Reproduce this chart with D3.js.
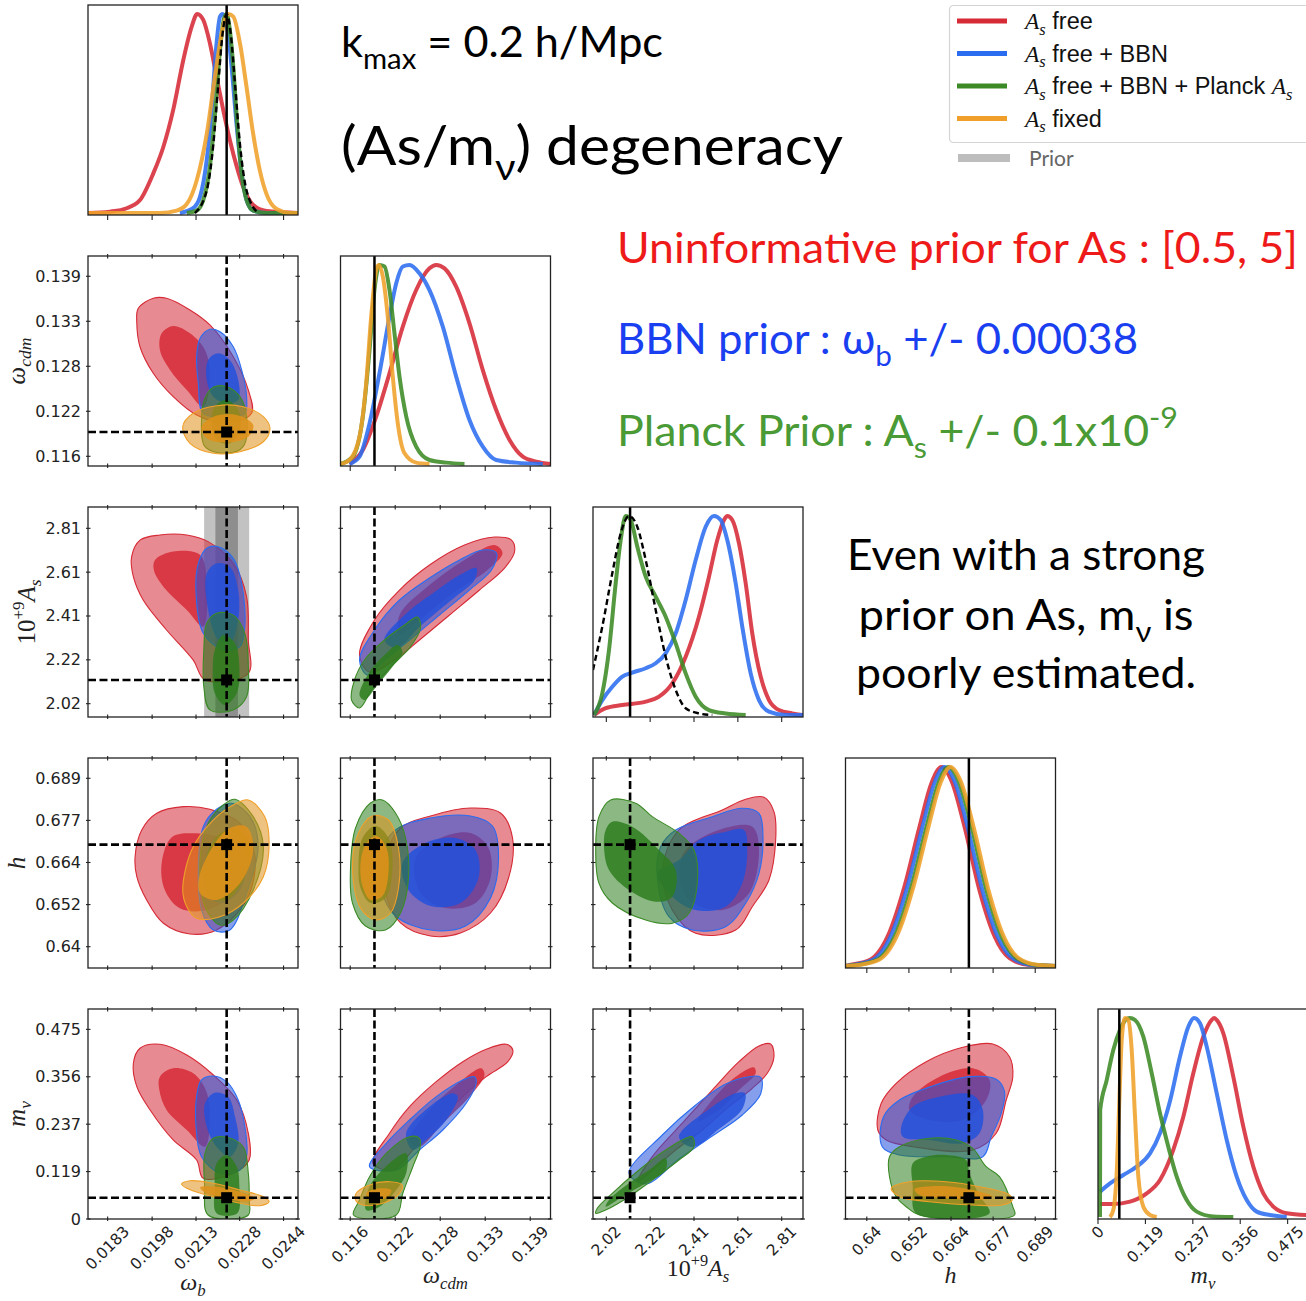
<!DOCTYPE html>
<html>
<head>
<meta charset="utf-8">
<script src="https://cdn.jsdelivr.net/npm/d3@7"></script>
<style>
html,body{margin:0;padding:0;background:#fff;}
svg{display:block;}
</style>
</head>
<body>
<svg id="chart" width="1306" height="1301"></svg>
<script>
// ======================= DATA =======================
const paramOrder = ['wb', 'wcdm', 'As', 'h', 'mnu'];

const wbDomain = [0.01763, 0.02490];
const wcdmDomain = [0.11476, 0.14159];
const AsDomain = [1.960, 2.906];
const hDomain = [0.6338, 0.6949];
const mnuDomain = [0, 0.526];

const wbTicks = [0.01831, 0.01985, 0.02137, 0.02288, 0.02440];
const wbTickLabels = ['0.0183', '0.0198', '0.0213', '0.0228', '0.0244'];
const wcdmTicks = [0.116, 0.12175, 0.1275, 0.13325, 0.139];
const wcdmTickLabels = ['0.116', '0.122', '0.128', '0.133', '0.139'];
const AsTicks = [2.02, 2.2175, 2.415, 2.6125, 2.81];
const AsTickLabels = ['2.02', '2.22', '2.41', '2.61', '2.81'];
const hTicks = [0.64, 0.65225, 0.6645, 0.67675, 0.689];
const hTickLabels = ['0.64', '0.652', '0.664', '0.677', '0.689'];
const mnuTicks = [0, 0.11875, 0.2375, 0.35625, 0.475];
const mnuTickLabels = ['0', '0.119', '0.237', '0.356', '0.475'];

const truthValues = { wb: 0.02243, wcdm: 0.1191, As: 2.127, h: 0.6697, mnu: 0.0534 };
const bbnPrior = { mean: 0.02243, sigma: 0.00039 };

const seriesNames = ['red', 'blue', 'green', 'orange'];

// ---- 1D marginal posteriors [value, normalised height] ----
const pdf_wb_red = [[0.01764,0],[0.01839,0.007],[0.01897,0.024],[0.01943,0.065],[0.01989,0.199],[0.02024,0.333],[0.02058,0.518],[0.02093,0.769],[0.02122,0.936],[0.02141,1.0],[0.02162,0.970],[0.02185,0.853],[0.02208,0.685],[0.02231,0.518],[0.02254,0.367],[0.02278,0.233],[0.02300,0.132],[0.02335,0.040],[0.02381,0.010],[0.02490,0]];
const pdf_wb_blue = [[0.02081,0],[0.02127,0.024],[0.02151,0.082],[0.02174,0.266],[0.02191,0.518],[0.02206,0.819],[0.02220,0.987],[0.02229,1.0],[0.02243,0.953],[0.02260,0.735],[0.02278,0.434],[0.02295,0.199],[0.02312,0.065],[0.02335,0.012],[0.02381,0],[0.02490,0]];
const pdf_wb_green = [[0.02105,0],[0.02139,0.012],[0.02162,0.065],[0.02185,0.233],[0.02202,0.484],[0.02220,0.819],[0.02234,0.978],[0.02243,1.0],[0.02254,0.920],[0.02266,0.735],[0.02280,0.434],[0.02295,0.199],[0.02312,0.065],[0.02335,0.012],[0.02381,0],[0.02490,0]];
const pdf_wb_orange = [[0.01763,0],[0.02012,0],[0.02070,0.012],[0.02105,0.045],[0.02139,0.162],[0.02174,0.396],[0.02202,0.681],[0.02226,0.903],[0.02248,1.0],[0.02266,0.987],[0.02289,0.853],[0.02312,0.631],[0.02335,0.396],[0.02358,0.213],[0.02381,0.095],[0.02416,0.020],[0.02462,0],[0.02490,0]];
const prior_wb = [[0.02133,0],[0.02174,0.113],[0.02197,0.347],[0.02214,0.648],[0.02229,0.903],[0.02243,1.0],[0.02257,0.903],[0.02272,0.648],[0.02289,0.347],[0.02312,0.113],[0.02352,0]];

const pdf_wcdm_red = [[0.11591,0],[0.11761,0.070],[0.11932,0.238],[0.12102,0.456],[0.12272,0.690],[0.12443,0.874],[0.12613,0.983],[0.12699,1.0],[0.12805,0.983],[0.12954,0.891],[0.13124,0.707],[0.13294,0.472],[0.13465,0.271],[0.13636,0.121],[0.13805,0.037],[0.13977,0.012],[0.14159,0]];
const pdf_wcdm_blue = [[0.11591,0],[0.11719,0.037],[0.11847,0.204],[0.11974,0.456],[0.12102,0.740],[0.12188,0.908],[0.12272,0.992],[0.12358,1.0],[0.12485,0.958],[0.12613,0.874],[0.12783,0.690],[0.12954,0.439],[0.13124,0.221],[0.13294,0.087],[0.13465,0.020],[0.13721,0.007],[0.14061,0]];
const pdf_wcdm_green = [[0.11476,0],[0.11633,0.037],[0.11761,0.238],[0.11847,0.573],[0.11910,0.874],[0.11974,1.0],[0.12038,0.992],[0.12102,0.874],[0.12166,0.656],[0.12230,0.439],[0.12316,0.238],[0.12443,0.087],[0.12613,0.020],[0.12827,0.007],[0.13060,0]];
const pdf_wcdm_orange = [[0.11476,0],[0.11591,0.020],[0.11719,0.137],[0.11804,0.405],[0.11868,0.740],[0.11932,0.975],[0.11965,1.0],[0.12017,0.941],[0.12080,0.740],[0.12144,0.439],[0.12208,0.204],[0.12294,0.054],[0.12443,0.007],[0.12613,0]];

const pdf_As_red = [[1.9645,0],[2.0172,0.034],[2.0920,0.050],[2.1974,0.067],[2.2573,0.092],[2.3172,0.159],[2.3775,0.293],[2.4374,0.494],[2.4825,0.695],[2.5199,0.879],[2.5500,0.980],[2.5649,1.0],[2.5874,0.980],[2.6176,0.863],[2.6478,0.662],[2.6775,0.410],[2.7153,0.193],[2.7527,0.075],[2.7977,0.025],[2.8577,0.008],[2.9027,0]];
const pdf_As_blue = [[1.9645,0],[2.0019,0.075],[2.0469,0.142],[2.0920,0.193],[2.1370,0.213],[2.1974,0.235],[2.2424,0.260],[2.2874,0.310],[2.3325,0.410],[2.3775,0.578],[2.4226,0.779],[2.4676,0.946],[2.5050,1.0],[2.5352,0.980],[2.5649,0.879],[2.6027,0.662],[2.6324,0.444],[2.6703,0.209],[2.7077,0.075],[2.7527,0.017],[2.8279,0],[2.906,0]];
const pdf_As_green = [[1.9645,0],[2.0019,0.109],[2.0321,0.327],[2.0622,0.662],[2.0848,0.879],[2.1073,1.0],[2.1298,0.980],[2.1595,0.846],[2.1974,0.695],[2.2424,0.595],[2.2874,0.494],[2.3325,0.360],[2.3775,0.209],[2.4226,0.092],[2.4825,0.025],[2.5577,0.008],[2.6478,0]];
const prior_As = [[1.960,0.226],[2.0019,0.444],[2.0469,0.712],[2.0848,0.913],[2.1221,1.0],[2.1595,0.946],[2.1974,0.779],[2.2424,0.528],[2.2874,0.293],[2.3325,0.126],[2.3775,0.034],[2.4374,0.008],[2.4973,0]];

const pdf_h_red = [[0.6338,0],[0.63496,0.005],[0.64078,0.03],[0.6466,0.17],[0.65097,0.40],[0.65533,0.70],[0.65883,0.92],[0.66174,1.0],[0.66465,0.93],[0.66843,0.70],[0.67279,0.38],[0.67716,0.15],[0.68152,0.04],[0.68734,0.005],[0.6949,0]];
const pdf_h_blue = [[0.6338,0],[0.63583,0.005],[0.64165,0.03],[0.64747,0.17],[0.65184,0.40],[0.6562,0.70],[0.6597,0.92],[0.66261,1.0],[0.66552,0.93],[0.6693,0.70],[0.67366,0.38],[0.67803,0.15],[0.68239,0.04],[0.68821,0.005],[0.6949,0]];
const pdf_h_green = [[0.6338,0],[0.637,0.005],[0.64282,0.03],[0.64864,0.17],[0.65301,0.40],[0.65737,0.70],[0.66087,0.92],[0.66378,1.0],[0.66669,0.93],[0.67047,0.70],[0.67483,0.38],[0.6792,0.15],[0.68356,0.04],[0.68938,0.005],[0.6949,0]];
const pdf_h_orange = [[0.6338,0],[0.63758,0.005],[0.6434,0.03],[0.64922,0.17],[0.65359,0.40],[0.65795,0.70],[0.66145,0.92],[0.66436,1.0],[0.66727,0.93],[0.67105,0.70],[0.67541,0.38],[0.67978,0.15],[0.68414,0.04],[0.68996,0.005],[0.6949,0]];

const pdf_mnu_red = [[0.005,0.065],[0.0383,0.065],[0.0802,0.077],[0.1220,0.119],[0.1553,0.186],[0.1886,0.337],[0.2137,0.504],[0.2387,0.722],[0.2638,0.906],[0.2848,0.99],[0.2910,1.0],[0.2973,0.99],[0.3139,0.923],[0.3389,0.705],[0.3640,0.454],[0.3890,0.253],[0.4141,0.119],[0.4391,0.052],[0.4727,0.019],[0.5228,0.010]];
const pdf_mnu_blue = [[0.005,0.127],[0.0301,0.169],[0.0634,0.211],[0.0969,0.253],[0.1303,0.320],[0.1553,0.421],[0.1804,0.583],[0.2054,0.806],[0.2262,0.956],[0.2405,1.0],[0.2555,0.973],[0.2723,0.856],[0.2973,0.622],[0.3224,0.387],[0.3474,0.203],[0.3725,0.085],[0.3975,0.027],[0.4309,0.010],[0.4727,0]];
const pdf_mnu_green = [[0.005,0],[0.0055,0.538],[0.0218,0.688],[0.0383,0.839],[0.0551,0.940],[0.0719,0.995],[0.0802,1.0],[0.0927,0.990],[0.1135,0.906],[0.1345,0.722],[0.1553,0.521],[0.1761,0.353],[0.1971,0.203],[0.2222,0.085],[0.2472,0.027],[0.2888,0.003],[0.3389,0]];
const pdf_mnu_orange = [[0.0301,0],[0.0383,0.035],[0.0468,0.220],[0.0534,0.583],[0.0594,0.889],[0.0676,1.0],[0.0759,0.990],[0.0844,0.839],[0.0927,0.504],[0.1010,0.203],[0.1135,0.052],[0.1303,0.010],[0.1470,0]];

// ---- 2D credible contours (o = 95%, i = 68%) [x value, y value] ----
const ct_wb_wcdm = {
  red: { o: [[0.01937,0.13491],[0.01989,0.13619],[0.02035,0.13619],[0.02116,0.13469],[0.02185,0.13278],[0.02266,0.12873],[0.02318,0.12447],[0.02329,0.12149],[0.02243,0.12022],[0.02139,0.12128],[0.02058,0.12362],[0.01989,0.12661],[0.01943,0.13000],[0.01932,0.13299]],
         i: [[0.02018,0.13172],[0.02058,0.13265],[0.02116,0.13172],[0.02168,0.12958],[0.02185,0.12617],[0.02162,0.12234],[0.02105,0.12447],[0.02047,0.12703],[0.02012,0.12958]] },
  blue: { o: [[0.02151,0.13108],[0.02185,0.13223],[0.02220,0.13192],[0.02266,0.13000],[0.02295,0.12703],[0.02312,0.12362],[0.02306,0.12149],[0.02243,0.12106],[0.02162,0.12149],[0.02145,0.12533],[0.02139,0.12873]],
          i: [[0.02179,0.12830],[0.02214,0.12916],[0.02254,0.12830],[0.02283,0.12575],[0.02283,0.12319],[0.02243,0.12277],[0.02197,0.12362],[0.02174,0.12575]] },
  green: { o: [[0.02168,0.12341],[0.02197,0.12482],[0.02243,0.12489],[0.02289,0.12362],[0.02312,0.12106],[0.02300,0.11723],[0.02243,0.11638],[0.02168,0.11723],[0.02156,0.12064]],
           i: [[0.02202,0.12234],[0.02243,0.12319],[0.02283,0.12192],[0.02289,0.11936],[0.02254,0.11766],[0.02208,0.11808],[0.02191,0.12022]] },
  orange: { o: [[0.02091,0.11978],[0.02127,0.12149],[0.02208,0.12246],[0.02300,0.12234],[0.02370,0.12106],[0.02393,0.11958],[0.02370,0.11786],[0.02289,0.11659],[0.02197,0.11638],[0.02116,0.11766]],
            i: [[0.02156,0.11978],[0.02197,0.12106],[0.02278,0.12128],[0.02335,0.12000],[0.02318,0.11850],[0.02243,0.11774],[0.02174,0.11830]] }
};
const ct_wb_As = {
  red: { o: [[0.01914,2.682],[0.01943,2.757],[0.02012,2.780],[0.02105,2.780],[0.02179,2.750],[0.02266,2.652],[0.02312,2.502],[0.02318,2.307],[0.02318,2.157],[0.02168,2.127],[0.02127,2.217],[0.02035,2.352],[0.01954,2.487],[0.01920,2.592]],
         i: [[0.01995,2.667],[0.02058,2.705],[0.02151,2.690],[0.02174,2.562],[0.02162,2.367],[0.02105,2.442],[0.02024,2.547],[0.01991,2.622]] },
  blue: { o: [[0.02145,2.652],[0.02174,2.720],[0.02214,2.727],[0.02266,2.675],[0.02295,2.562],[0.02306,2.367],[0.02289,2.277],[0.02231,2.262],[0.02162,2.337],[0.02137,2.517]],
          i: [[0.02174,2.607],[0.02208,2.652],[0.02254,2.637],[0.02283,2.532],[0.02283,2.397],[0.02254,2.292],[0.02214,2.307],[0.02179,2.442]] },
  green: { o: [[0.02174,2.382],[0.02208,2.427],[0.02266,2.419],[0.02306,2.337],[0.02318,2.187],[0.02312,2.051],[0.02266,1.992],[0.02185,1.992],[0.02164,2.096],[0.02164,2.262]],
           i: [[0.02202,2.262],[0.02231,2.329],[0.02272,2.292],[0.02287,2.187],[0.02278,2.067],[0.02237,2.014],[0.02202,2.067],[0.02195,2.187]] }
};
const ct_wcdm_As = {
  red: { o: [[0.11910,2.3969],[0.12230,2.5320],[0.12613,2.6446],[0.13060,2.7347],[0.13444,2.7707],[0.13661,2.7572],[0.13699,2.7032],[0.13572,2.6311],[0.13252,2.5320],[0.12869,2.4194],[0.12485,2.3068],[0.12166,2.2167],[0.11847,2.1627],[0.11719,2.2392]],
         i: [[0.12230,2.4194],[0.12613,2.5545],[0.13060,2.6671],[0.13444,2.7347],[0.13546,2.6987],[0.13354,2.6221],[0.12933,2.5230],[0.12485,2.3969],[0.12230,2.3293]] },
  blue: { o: [[0.11719,2.2167],[0.11910,2.3518],[0.12230,2.4870],[0.12613,2.5861],[0.12997,2.6671],[0.13290,2.7122],[0.13469,2.6987],[0.13405,2.6221],[0.13124,2.5320],[0.12741,2.4194],[0.12358,2.3068],[0.12038,2.2167],[0.11821,2.1492]],
          i: [[0.12038,2.3068],[0.12294,2.4194],[0.12677,2.5230],[0.12997,2.5996],[0.13214,2.6311],[0.13188,2.5770],[0.12894,2.4870],[0.12511,2.3744],[0.12192,2.2708]] },
  green: { o: [[0.11617,2.0366],[0.11655,2.1266],[0.11783,2.2167],[0.12038,2.3068],[0.12294,2.3744],[0.12460,2.4104],[0.12498,2.3609],[0.12358,2.2708],[0.12102,2.1807],[0.11872,2.0816],[0.11719,2.0005]],
           i: [[0.11719,2.0591],[0.11847,2.1627],[0.12038,2.2392],[0.12204,2.2843],[0.12268,2.2528],[0.12128,2.1807],[0.11949,2.1041],[0.11783,2.0366]] }
};
const ct_wb_h = {
  red: { o: [[0.01926,0.66619],[0.01949,0.67396],[0.02001,0.67882],[0.02093,0.68074],[0.02185,0.67998],[0.02289,0.67591],[0.02341,0.66619],[0.02312,0.65359],[0.02208,0.64486],[0.02116,0.64369],[0.02024,0.64681],[0.01966,0.65359],[0.01932,0.66037]],
         i: [[0.02018,0.66427],[0.02053,0.67183],[0.02127,0.67300],[0.02243,0.67105],[0.02312,0.66523],[0.02266,0.65554],[0.02174,0.65068],[0.02081,0.65117],[0.02029,0.65650]] },
  blue: { o: [[0.02162,0.67492],[0.02208,0.67998],[0.02260,0.68173],[0.02324,0.67783],[0.02352,0.66910],[0.02312,0.65554],[0.02254,0.64486],[0.02197,0.64486],[0.02156,0.65068],[0.02145,0.66328]],
          i: [[0.02168,0.66523],[0.02208,0.67201],[0.02278,0.67300],[0.02312,0.66619],[0.02289,0.65650],[0.02220,0.65263],[0.02174,0.65650]] },
  green: { o: [[0.02151,0.66523],[0.02179,0.67591],[0.02231,0.68123],[0.02272,0.68289],[0.02335,0.67783],[0.02370,0.66910],[0.02335,0.65650],[0.02266,0.64777],[0.02220,0.64631],[0.02168,0.65164]],
           i: [[0.02162,0.66136],[0.02208,0.67201],[0.02278,0.67445],[0.02324,0.66910],[0.02306,0.66037],[0.02243,0.65359],[0.02185,0.65455]] },
  orange: { o: [[0.02091,0.65650],[0.02122,0.66814],[0.02197,0.67687],[0.02266,0.68123],[0.02318,0.68269],[0.02375,0.67783],[0.02390,0.67009],[0.02370,0.66037],[0.02300,0.65263],[0.02220,0.64873],[0.02139,0.64826],[0.02105,0.65164]],
            i: [[0.02151,0.66136],[0.02243,0.67396],[0.02312,0.67492],[0.02335,0.66814],[0.02289,0.65845],[0.02208,0.65359],[0.02151,0.65554]] }
};
const ct_wcdm_h = {
  red: { o: [[0.12051,0.66581],[0.12243,0.67454],[0.12626,0.67803],[0.13137,0.68036],[0.13520,0.67891],[0.13674,0.67163],[0.13623,0.65999],[0.13393,0.64980],[0.13009,0.64399],[0.12626,0.64311],[0.12243,0.64690],[0.12051,0.65563]],
         i: [[0.12434,0.66581],[0.12754,0.67163],[0.13137,0.67309],[0.13367,0.66872],[0.13393,0.65999],[0.13201,0.65272],[0.12818,0.65126],[0.12498,0.65563]] },
  blue: { o: [[0.11962,0.66581],[0.12179,0.67396],[0.12626,0.67745],[0.13137,0.67803],[0.13418,0.67512],[0.13495,0.66581],[0.13393,0.65417],[0.13073,0.64602],[0.12626,0.64486],[0.12179,0.64893],[0.11987,0.65708]],
          i: [[0.12268,0.66436],[0.12562,0.67018],[0.12945,0.67163],[0.13201,0.66814],[0.13240,0.65999],[0.13009,0.65272],[0.12626,0.65184],[0.12345,0.65650]] },
  green: { o: [[0.11604,0.66290],[0.11668,0.67454],[0.11859,0.68182],[0.12013,0.68269],[0.12179,0.67891],[0.12307,0.67163],[0.12345,0.65999],[0.12243,0.64980],[0.12051,0.64486],[0.11795,0.64602],[0.11629,0.65272]],
           i: [[0.11706,0.66290],[0.11757,0.67163],[0.11923,0.67512],[0.12089,0.67163],[0.12140,0.66290],[0.12051,0.65417],[0.11859,0.65272],[0.11732,0.65708]] },
  orange: { o: [[0.11629,0.66290],[0.11706,0.67309],[0.11885,0.67803],[0.12089,0.67687],[0.12217,0.66872],[0.12217,0.65708],[0.12115,0.64980],[0.11923,0.64777],[0.11732,0.65126]],
            i: [[0.11732,0.66436],[0.11808,0.67018],[0.11936,0.67221],[0.12064,0.66872],[0.12089,0.66145],[0.12013,0.65475],[0.11859,0.65359],[0.11757,0.65766]] }
};
const ct_As_h = {
  red: { o: [[2.3473,0.67396],[2.5424,0.67978],[2.6478,0.68289],[2.7302,0.68347],[2.7752,0.67928],[2.7829,0.67105],[2.7527,0.65941],[2.6775,0.65164],[2.6027,0.64486],[2.4226,0.64390],[2.3172,0.65068],[2.2721,0.66232]],
         i: [[2.3775,0.66814],[2.5275,0.67396],[2.6775,0.67492],[2.7077,0.66814],[2.6626,0.65554],[2.5424,0.65068],[2.3924,0.65359],[2.3473,0.66136]] },
  blue: { o: [[2.3325,0.67396],[2.4973,0.67783],[2.6324,0.68027],[2.7077,0.67882],[2.7257,0.67201],[2.7077,0.66136],[2.6478,0.65263],[2.5577,0.64582],[2.4072,0.64486],[2.3023,0.64873],[2.2496,0.66037],[2.2649,0.66910]],
          i: [[2.3473,0.66523],[2.4374,0.67105],[2.5577,0.67346],[2.6401,0.67396],[2.6550,0.66814],[2.6324,0.65845],[2.5577,0.65164],[2.4226,0.65068],[2.3172,0.65455],[2.2496,0.66136]] },
  green: { o: [[1.9870,0.67783],[2.0397,0.68269],[2.1523,0.68173],[2.2271,0.67783],[2.3473,0.67300],[2.4149,0.66814],[2.4298,0.65845],[2.3924,0.64972],[2.3172,0.64681],[2.1974,0.64777],[2.0469,0.65272],[1.9870,0.65845],[1.9722,0.66814]],
           i: [[2.0172,0.67396],[2.0469,0.67637],[2.1370,0.67492],[2.2573,0.66814],[2.3325,0.66232],[2.3172,0.65455],[2.2424,0.65309],[2.1221,0.65650],[2.0321,0.66232],[2.0095,0.66910]] }
};
const ct_wb_mnu = {
  red: { o: [[0.01920,0.3900],[0.01943,0.4276],[0.02012,0.4376],[0.02105,0.4108],[0.02197,0.3607],[0.02278,0.2981],[0.02318,0.2147],[0.02321,0.1478],[0.02266,0.1145],[0.02162,0.1020],[0.02139,0.1478],[0.02058,0.1979],[0.01978,0.2730],[0.01932,0.3314]],
         i: [[0.02012,0.3565],[0.02058,0.3775],[0.02127,0.3650],[0.02168,0.3274],[0.02185,0.2730],[0.02168,0.1811],[0.02105,0.2229],[0.02035,0.2730],[0.02010,0.3231]] },
  blue: { o: [[0.02139,0.3064],[0.02156,0.3482],[0.02197,0.3582],[0.02243,0.3439],[0.02283,0.2981],[0.02306,0.2312],[0.02312,0.1561],[0.02289,0.1227],[0.02220,0.1145],[0.02156,0.1561],[0.02137,0.2312]],
          i: [[0.02168,0.2898],[0.02202,0.3164],[0.02248,0.3064],[0.02272,0.2563],[0.02283,0.1896],[0.02254,0.1561],[0.02208,0.1811],[0.02174,0.2312]] },
  green: { o: [[0.02168,0.1646],[0.02197,0.2022],[0.02243,0.2047],[0.02300,0.1811],[0.02318,0.1145],[0.02321,0.0476],[0.02318,0.0100],[0.02179,0.0100],[0.02167,0.0809]],
           i: [[0.02208,0.1395],[0.02243,0.1603],[0.02278,0.1310],[0.02287,0.0809],[0.02280,0.0143],[0.02208,0.0143],[0.02202,0.0809]] },
  orange: { o: [[0.02087,0.0877],[0.02116,0.0959],[0.02197,0.0894],[0.02289,0.0726],[0.02370,0.0559],[0.02390,0.0433],[0.02358,0.0333],[0.02266,0.0433],[0.02174,0.0601],[0.02105,0.0769]],
            i: [[0.02151,0.0794],[0.02208,0.0809],[0.02289,0.0684],[0.02341,0.0519],[0.02312,0.0433],[0.02243,0.0519],[0.02168,0.0659]] }
};
const ct_wcdm_mnu = {
  red: { o: [[0.11889,0.1395],[0.12102,0.2147],[0.12358,0.2813],[0.12699,0.3439],[0.13039,0.3940],[0.13338,0.4251],[0.13593,0.4376],[0.13678,0.4233],[0.13614,0.3940],[0.13338,0.3565],[0.13039,0.3064],[0.12699,0.2397],[0.12400,0.1728],[0.12144,0.1227]],
         i: [[0.12358,0.1979],[0.12613,0.2730],[0.12954,0.3357],[0.13274,0.3775],[0.13316,0.3607],[0.13124,0.3064],[0.12783,0.2397],[0.12485,0.1811]] },
  blue: { o: [[0.11847,0.1310],[0.12060,0.1896],[0.12358,0.2480],[0.12699,0.3064],[0.13039,0.3482],[0.13188,0.3565],[0.13210,0.3399],[0.13082,0.2898],[0.12783,0.2229],[0.12485,0.1728],[0.12188,0.1227]],
          i: [[0.12315,0.2147],[0.12613,0.2813],[0.12911,0.3149],[0.12975,0.3064],[0.12827,0.2480],[0.12571,0.1979],[0.12400,0.1728]] },
  green: { o: [[0.12485,0.2022],[0.12358,0.2062],[0.12060,0.1646],[0.11847,0.1060],[0.11719,0.0476],[0.11642,0.0100],[0.12188,0.0100],[0.12272,0.0644],[0.12400,0.1310],[0.12494,0.1811]],
           i: [[0.12102,0.1395],[0.12315,0.1646],[0.12315,0.1145],[0.12188,0.0726],[0.11974,0.0308],[0.11804,0.0225],[0.11847,0.0809]] },
  orange: { o: [[0.11677,0.0644],[0.11847,0.0852],[0.12102,0.0934],[0.12264,0.0852],[0.12230,0.0644],[0.12016,0.0393],[0.11761,0.0351],[0.11668,0.0476]],
            i: [[0.11804,0.0644],[0.11974,0.0769],[0.12124,0.0726],[0.12080,0.0559],[0.11889,0.0476]] }
};
const ct_As_mnu = {
  red: { o: [[2.2271,0.1561],[2.3473,0.2312],[2.4973,0.3231],[2.6176,0.3940],[2.7077,0.4334],[2.7604,0.4384],[2.7752,0.4066],[2.7450,0.3650],[2.6775,0.3274],[2.5725,0.2813],[2.4523,0.2229],[2.3325,0.1728],[2.1627,0.0952]],
         i: [[2.4973,0.2981],[2.6027,0.3565],[2.6851,0.3800],[2.6928,0.3650],[2.6176,0.3231],[2.5275,0.2730],[2.4329,0.2455]] },
  blue: { o: [[2.1221,0.1145],[2.2721,0.2104],[2.4226,0.2856],[2.5577,0.3382],[2.6626,0.3565],[2.7153,0.3550],[2.7153,0.3131],[2.6324,0.2605],[2.4973,0.2079],[2.3473,0.1503],[2.1974,0.0877]],
          i: [[2.3473,0.2062],[2.4973,0.2813],[2.6027,0.3149],[2.6446,0.3149],[2.6324,0.2756],[2.5275,0.2255],[2.4072,0.1804]] },
  green: { o: [[2.4072,0.2062],[2.4149,0.1811],[2.3473,0.1478],[2.2271,0.0977],[2.1221,0.0559],[2.0172,0.0225],[1.9722,0.0143],[1.9794,0.0268],[2.0469,0.0644],[2.1672,0.1227],[2.2874,0.1728],[2.3775,0.2022]],
           i: [[2.2122,0.1227],[2.2874,0.1521],[2.2874,0.1227],[2.1974,0.0894],[2.0920,0.0559],[2.0172,0.0308],[2.0321,0.0476],[2.1221,0.0894]] }
};
const ct_h_mnu = {
  red: { o: [[0.64320,0.2229],[0.64419,0.2898],[0.64855,0.3399],[0.65728,0.3940],[0.66793,0.4301],[0.67666,0.4384],[0.68152,0.4066],[0.68248,0.3565],[0.68056,0.2981],[0.67765,0.2147],[0.67084,0.1728],[0.65338,0.1811],[0.64564,0.1979]],
         i: [[0.65338,0.3064],[0.66115,0.3565],[0.67084,0.3775],[0.67570,0.3482],[0.67474,0.2981],[0.66793,0.2480],[0.65824,0.2480],[0.65242,0.2730]] },
  blue: { o: [[0.64448,0.1811],[0.64486,0.2563],[0.64951,0.2981],[0.65920,0.3332],[0.66988,0.3565],[0.67765,0.3500],[0.68007,0.3189],[0.67911,0.2648],[0.67620,0.2062],[0.67375,0.1561],[0.66310,0.1561],[0.64951,0.1603]],
          i: [[0.65001,0.2312],[0.65338,0.2813],[0.66115,0.3064],[0.67084,0.3106],[0.67375,0.2730],[0.67279,0.2147],[0.66793,0.1896],[0.65824,0.1979],[0.65047,0.2062]] },
  green: { o: [[0.64660,0.1561],[0.64951,0.1811],[0.65824,0.2022],[0.66601,0.1979],[0.67084,0.1771],[0.67474,0.1310],[0.67861,0.1060],[0.68248,0.0308],[0.68298,0.0100],[0.65533,0.0100],[0.65146,0.0308],[0.64855,0.0559],[0.64660,0.1060]],
           i: [[0.65338,0.1395],[0.65728,0.1561],[0.66310,0.1603],[0.66892,0.1478],[0.66988,0.1145],[0.67250,0.0626],[0.67570,0.0143],[0.65437,0.0143],[0.65338,0.0809]] },
  orange: { o: [[0.64710,0.0769],[0.65242,0.0934],[0.66310,0.0934],[0.67279,0.0809],[0.68152,0.0601],[0.68231,0.0476],[0.67957,0.0351],[0.67084,0.0351],[0.65824,0.0433],[0.64951,0.0559]],
            i: [[0.65388,0.0744],[0.66115,0.0827],[0.67084,0.0726],[0.67666,0.0559],[0.67279,0.0476],[0.66310,0.0519],[0.65533,0.0601]] }
};

// ---- text content ----
const legendEntries = [
  [['A','m'],['s','msub'],[' free','n']],
  [['A','m'],['s','msub'],[' free + BBN','n']],
  [['A','m'],['s','msub'],[' free + BBN + Planck ','n'],['A','m'],['s','msub']],
  [['A','m'],['s','msub'],[' fixed','n']]
];
const legendPriorLabel = 'Prior';
const axisLabels = {
  wb:   [['ω','m'],['b','msub']],
  wcdm: [['ω','m'],['cdm','msub']],
  As:   [['10','n'],['+9','sup'],['A','m'],['s','msub']],
  h:    [['h','m']],
  mnu:  [['m','m'],['ν','msub']]
};
const titleKmax = [['k','n'],['max','sub'],[' = 0.2 h/Mpc','n']];
const titleDegeneracy = [['(As/m','n'],['ν','sub'],[') degeneracy','n']];
const noteUninformative = [['Uninformative prior for As : [0.5, 5]','n']];
const noteBBN = [['BBN prior : ω','n'],['b','sub'],[' +/- 0.00038','n']];
const notePlanck = [['Planck Prior :  A','n'],['s','sub'],[' +/- 0.1x10','n'],['-9','sup']];
const noteConclusion = [
  [['Even with a strong','n']],
  [['prior on As, m','n'],['ν','sub'],[' is','n']],
  [['poorly estimated.','n']]
];

// ======================= STYLE / LAYOUT =======================
const colors = {
  red:    { line: '#d62a36', fill: '#d62a36' },
  blue:   { line: '#2b6df0', fill: '#2351dc' },
  green:  { line: '#3c8a26', fill: '#2e7d1e' },
  orange: { line: '#f0a02a', fill: '#e0921a' }
};
const S = 210;
const colX = j => 88 + 252.5 * j;
const rowY = i => 5 + 251 * i;
const SANS = "'DejaVu Sans', sans-serif";
const LEGSANS = "'Liberation Sans', Arial, sans-serif";
const SERIF = "'Liberation Serif', 'DejaVu Serif', serif";
const BIG = "Lato, 'Open Sans', sans-serif";

const params = {
  wb:   { domain: wbDomain,   ticks: wbTicks,   labels: wbTickLabels,   pdfs: { red: pdf_wb_red, blue: pdf_wb_blue, green: pdf_wb_green, orange: pdf_wb_orange }, prior: prior_wb },
  wcdm: { domain: wcdmDomain, ticks: wcdmTicks, labels: wcdmTickLabels, pdfs: { red: pdf_wcdm_red, blue: pdf_wcdm_blue, green: pdf_wcdm_green, orange: pdf_wcdm_orange } },
  As:   { domain: AsDomain,   ticks: AsTicks,   labels: AsTickLabels,   pdfs: { red: pdf_As_red, blue: pdf_As_blue, green: pdf_As_green }, prior: prior_As },
  h:    { domain: hDomain,    ticks: hTicks,    labels: hTickLabels,    pdfs: { red: pdf_h_red, blue: pdf_h_blue, green: pdf_h_green, orange: pdf_h_orange } },
  mnu:  { domain: mnuDomain,  ticks: mnuTicks,  labels: mnuTickLabels,  pdfs: { red: pdf_mnu_red, blue: pdf_mnu_blue, green: pdf_mnu_green, orange: pdf_mnu_orange } }
};
const contours = {
  'wb|wcdm': ct_wb_wcdm, 'wb|As': ct_wb_As, 'wcdm|As': ct_wcdm_As,
  'wb|h': ct_wb_h, 'wcdm|h': ct_wcdm_h, 'As|h': ct_As_h,
  'wb|mnu': ct_wb_mnu, 'wcdm|mnu': ct_wcdm_mnu, 'As|mnu': ct_As_mnu, 'h|mnu': ct_h_mnu
};

// ======================= DRAW =======================
const svg = d3.select('#chart');
const defs = svg.append('defs');
const W = 1306;

function rich(textSel, segs, fs, family, mathFamily) {
  let shift = 0;
  segs.forEach(([t, kind]) => {
    let target = 0, size = fs, fam = family, style = 'normal';
    if (kind === 'sub') { target = fs * 0.28; size = fs * 0.68; }
    if (kind === 'sup') { target = -fs * 0.42; size = fs * 0.68; }
    if (kind === 'm') { fam = mathFamily; style = 'italic'; }
    if (kind === 'msub') { fam = mathFamily; style = 'italic'; target = fs * 0.25; size = fs * 0.7; }
    textSel.append('tspan').text(t)
      .attr('dy', (target - shift).toFixed(2))
      .attr('font-size', size).attr('font-family', fam).attr('font-style', style);
    shift = target;
  });
}

paramOrder.forEach((yp, i) => {
  paramOrder.forEach((xp, j) => {
    if (j > i) return;
    const x0 = colX(j), y0 = rowY(i);
    const x = d3.scaleLinear().domain(params[xp].domain).range([x0, x0 + S]);
    const g = svg.append('g');
    const clipId = `clip-${i}-${j}`;
    defs.append('clipPath').attr('id', clipId)
      .append('rect').attr('x', x0).attr('y', y0).attr('width', S).attr('height', S);
    const inner = g.append('g').attr('clip-path', `url(#${clipId})`);

    if (i === j) {
      const y = d3.scaleLinear().domain([-0.01, 1.045]).range([y0 + S, y0]);
      const line = d3.line().x(d => x(d[0])).y(d => y(d[1])).curve(d3.curveMonotoneX);
      seriesNames.forEach(s => {
        const data = params[xp].pdfs[s];
        if (!data) return;
        inner.append('path').attr('d', line(data)).attr('fill', 'none')
          .attr('stroke', colors[s].line).attr('stroke-width', 4).attr('stroke-opacity', 0.88)
          .attr('stroke-linejoin', 'round');
      });
      if (params[xp].prior) {
        inner.append('path').attr('d', line(params[xp].prior)).attr('fill', 'none')
          .attr('stroke', '#000').attr('stroke-width', 2.4).attr('stroke-dasharray', '6,3.5');
      }
      const tx = x(truthValues[xp]);
      inner.append('line').attr('x1', tx).attr('x2', tx).attr('y1', y0).attr('y2', y0 + S)
        .attr('stroke', '#000').attr('stroke-width', 2.5);
      params[xp].ticks.forEach(v => {
        g.append('line').attr('x1', x(v)).attr('x2', x(v)).attr('y1', y0 + S).attr('y2', y0 + S + 5)
          .attr('stroke', '#222').attr('stroke-width', 1.1);
      });
    } else {
      const y = d3.scaleLinear().domain(params[yp].domain).range([y0 + S, y0]);
      if (xp === 'wb' && yp === 'As') {
        inner.append('rect').attr('x', x(bbnPrior.mean - 2 * bbnPrior.sigma)).attr('y', y0)
          .attr('width', x(bbnPrior.mean + 2 * bbnPrior.sigma) - x(bbnPrior.mean - 2 * bbnPrior.sigma)).attr('height', S)
          .attr('fill', '#c2c2c2');
        inner.append('rect').attr('x', x(bbnPrior.mean - bbnPrior.sigma)).attr('y', y0)
          .attr('width', x(bbnPrior.mean + bbnPrior.sigma) - x(bbnPrior.mean - bbnPrior.sigma)).attr('height', S)
          .attr('fill', '#8e8e8e');
      }
      const ct = contours[xp + '|' + yp];
      const cl = d3.line().x(d => x(d[0])).y(d => y(d[1])).curve(d3.curveCatmullRomClosed.alpha(0.5));
      seriesNames.forEach(s => {
        const c = ct[s];
        if (!c) return;
        inner.append('path').attr('d', cl(c.o)).attr('fill', colors[s].fill).attr('fill-opacity', 0.55)
          .attr('stroke', colors[s].line).attr('stroke-width', 1.1);
        inner.append('path').attr('d', cl(c.i)).attr('fill', colors[s].fill).attr('fill-opacity', 0.85);
      });
      const tx = x(truthValues[xp]), ty = y(truthValues[yp]);
      inner.append('line').attr('x1', tx).attr('x2', tx).attr('y1', y0).attr('y2', y0 + S)
        .attr('stroke', '#000').attr('stroke-width', 2.6).attr('stroke-dasharray', '8,3.5');
      inner.append('line').attr('x1', x0).attr('x2', x0 + S).attr('y1', ty).attr('y2', ty)
        .attr('stroke', '#000').attr('stroke-width', 2.6).attr('stroke-dasharray', '8,3.5');
      inner.append('rect').attr('x', tx - 5.5).attr('y', ty - 5.5).attr('width', 11).attr('height', 11)
        .attr('fill', '#000');
      params[xp].ticks.forEach(v => {
        g.append('line').attr('x1', x(v)).attr('x2', x(v)).attr('y1', y0 - 2).attr('y2', y0 + 2.5).attr('stroke', '#222').attr('stroke-width', 1.1);
        g.append('line').attr('x1', x(v)).attr('x2', x(v)).attr('y1', y0 + S - 2.5).attr('y2', y0 + S + 2).attr('stroke', '#222').attr('stroke-width', 1.1);
      });
      params[yp].ticks.forEach(v => {
        g.append('line').attr('x1', x0 - 2).attr('x2', x0 + 2.5).attr('y1', y(v)).attr('y2', y(v)).attr('stroke', '#222').attr('stroke-width', 1.1);
        g.append('line').attr('x1', x0 + S - 2.5).attr('x2', x0 + S + 2).attr('y1', y(v)).attr('y2', y(v)).attr('stroke', '#222').attr('stroke-width', 1.1);
      });
      if (j === 0) {
        let minLeft = Infinity;
        params[yp].labels.forEach((lab, k) => {
          const t = g.append('text').text(lab).attr('x', 81).attr('y', y(params[yp].ticks[k]))
            .attr('text-anchor', 'end').attr('dominant-baseline', 'central')
            .attr('font-family', SANS).attr('font-size', 16).attr('fill', '#222');
          minLeft = Math.min(minLeft, 81 - t.node().getComputedTextLength());
        });
        const ly = y0 + S / 2, lx = minLeft - 10.5;
        const lt = g.append('text').attr('x', 0).attr('y', 0).attr('text-anchor', 'middle')
          .attr('transform', `translate(${lx},${ly}) rotate(-90)`).attr('fill', '#222');
        rich(lt, axisLabels[yp], 25, SERIF, SERIF);
      }
    }
    g.append('rect').attr('x', x0).attr('y', y0).attr('width', S).attr('height', S)
      .attr('fill', 'none').attr('stroke', '#222').attr('stroke-width', 1.3);

    if (i === paramOrder.length - 1) {
      let maxBottom = 0;
      const yb = y0 + S;
      params[xp].labels.forEach((lab, k) => {
        const t = g.append('text').text(lab).attr('text-anchor', 'middle').attr('dominant-baseline', 'central')
          .attr('font-family', SANS).attr('font-size', 15.5).attr('fill', '#222');
        const w = t.node().getComputedTextLength();
        const half = (w + 11) * Math.SQRT1_2 / 2;
        const cx = Math.min(x(params[xp].ticks[k]), W - 1 - half), cy = yb + 6 + half;
        t.attr('x', cx).attr('y', cy).attr('transform', `rotate(-45 ${cx} ${cy})`);
        maxBottom = Math.max(maxBottom, cy + half);
      });
      const lt = g.append('text').attr('x', x0 + S / 2).attr('y', Math.min(maxBottom + 19, 1292))
        .attr('text-anchor', 'middle').attr('fill', '#222');
      rich(lt, axisLabels[xp], 24, SERIF, SERIF);
    }
  });
});

// ---- legend ----
const lg = svg.append('g');
lg.append('rect').attr('x', 949.5).attr('y', 5.5).attr('width', 380).attr('height', 137).attr('rx', 4)
  .attr('fill', '#fff').attr('stroke', '#d4d4d4').attr('stroke-width', 1.2);
legendEntries.forEach((segs, k) => {
  const cy = 21 + 32.5 * k;
  lg.append('line').attr('x1', 957).attr('x2', 1007).attr('y1', cy).attr('y2', cy)
    .attr('stroke', colors[seriesNames[k]].line).attr('stroke-width', 5);
  const t = lg.append('text').attr('x', 1025).attr('y', cy + 8).attr('fill', '#111');
  rich(t, segs, 23.5, LEGSANS, SERIF);
});
lg.append('line').attr('x1', 958).attr('x2', 1010).attr('y1', 158).attr('y2', 158)
  .attr('stroke', '#bdbdbd').attr('stroke-width', 8);
lg.append('text').attr('x', 1029).attr('y', 166).text(legendPriorLabel)
  .attr('font-family', BIG).attr('font-size', 21).attr('fill', '#666');

// ---- annotations ----
function bigText(segs, x, y, fs, color, width, anchor) {
  const t = svg.append('text').attr('x', x).attr('y', y).attr('fill', color)
    .attr('text-anchor', anchor || 'start');
  rich(t, segs, fs, BIG, BIG);
  if (width) t.attr('textLength', width).attr('lengthAdjust', 'spacingAndGlyphs');
  return t;
}
bigText(titleKmax, 341, 57, 42, '#000', 322);
bigText(titleDegeneracy, 341, 165, 54, '#000', 502);
bigText(noteUninformative, 617, 263, 42, '#ee1a1a', 681);
bigText(noteBBN, 617, 354, 42, '#1a3ff0', 521);
bigText(notePlanck, 617, 446, 42, '#4a9a35', 561);
bigText(noteConclusion[0], 1026, 570, 42, '#000', 358, 'middle');
bigText(noteConclusion[1], 1026, 630, 42, '#000', 335, 'middle');
bigText(noteConclusion[2], 1026, 688, 42, '#000', 340, 'middle');
</script>
</body>
</html>
